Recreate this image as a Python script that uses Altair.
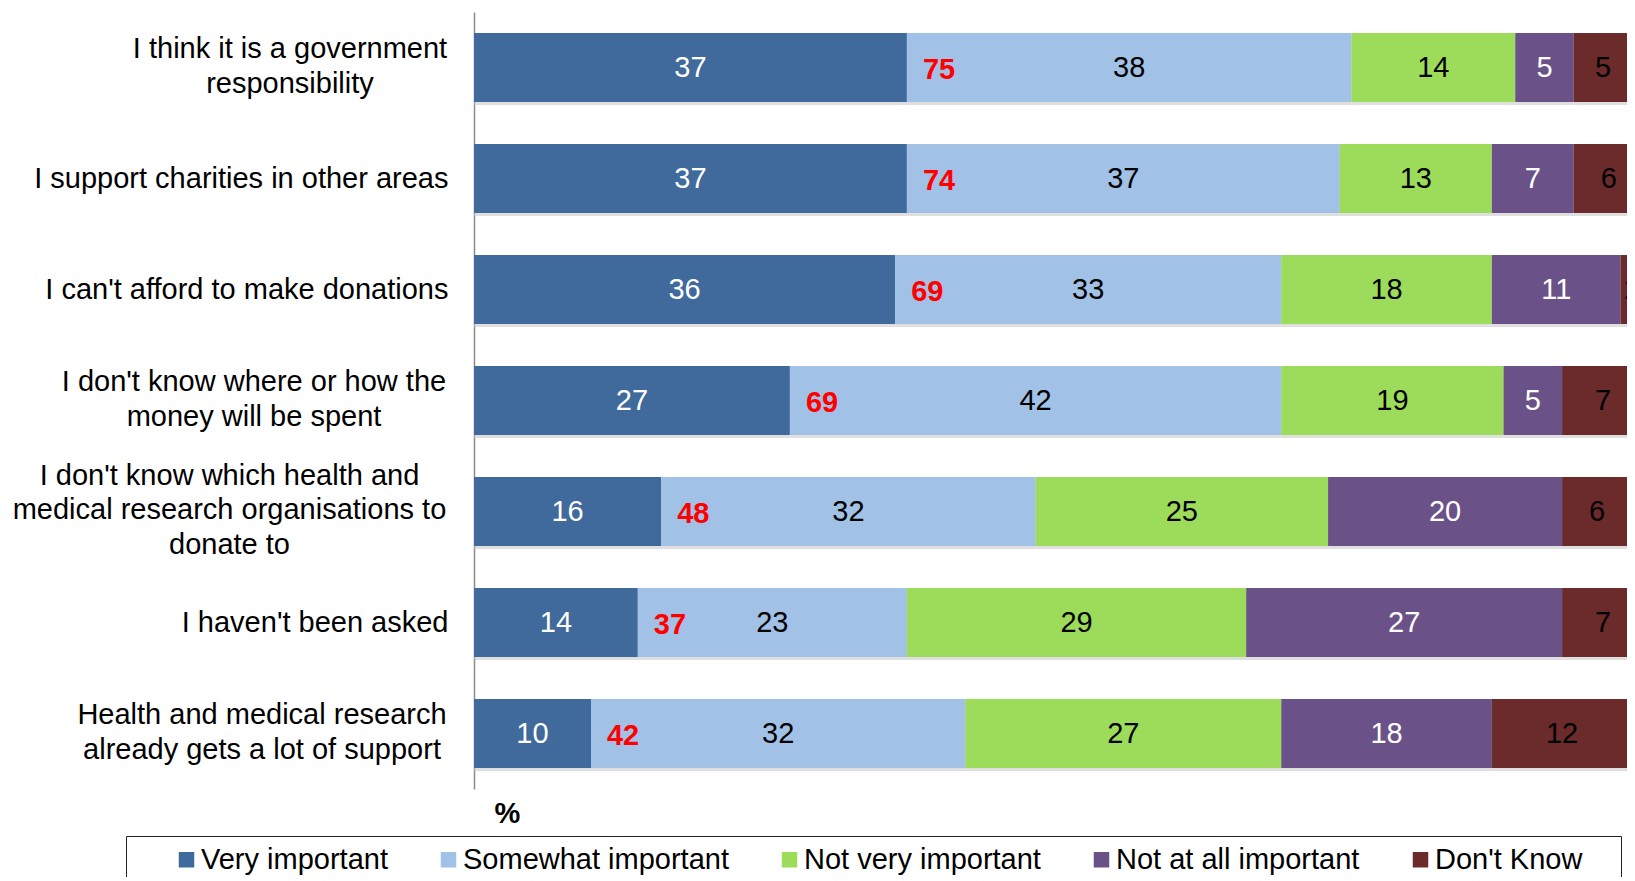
import json
import altair as alt
import pandas as pd

# ---------------- data ----------------
categories = [
    "I think it is a government|responsibility",
    "I support charities in other areas",
    "I can't afford to make donations",
    "I don't know where or how the|money will be spent",
    "I don't know which health and|medical research organisations to|donate to",
    "I haven't been asked",
    "Health and medical research|already gets a lot of support",
]
series = ["Very important", "Somewhat important", "Not very important",
          "Not at all important", "Don't Know"]
very_important = [37, 37, 36, 27, 16, 14, 10]
somewhat_important = [38, 37, 33, 42, 32, 23, 32]
not_very_important = [14, 13, 18, 19, 25, 29, 27]
not_at_all_important = [5, 7, 11, 5, 20, 27, 18]
dont_know = [5, 6, 2, 7, 6, 7, 12]
important_total = [75, 74, 69, 69, 48, 37, 42]

# ---------------- styles ----------------
bar_colors = ["#3F6A9B", "#A1C1E7", "#9DDC5A", "#6A5289", "#6B2B2B"]
text_colors = ["#FFFFFF", "#000000", "#000000", "#FFFFFF", "#000000"]
FONT = "Liberation Sans"
FS = 29
LH = 34.5
# widths (px) of multi-line label blocks, used to centre their lines
label_block_widths = {
    categories[0]: 317,
    categories[3]: 389,
    categories[4]: 438,
    categories[6]: 373,
}

values_by_series = [very_important, somewhat_important, not_very_important,
                    not_at_all_important, dont_know]
rows = []
for si, (s, vals) in enumerate(zip(series, values_by_series)):
    for c, v in zip(categories, vals):
        rows.append({"cat": c, "series": s, "order": si, "value": v})
df = pd.DataFrame(rows)
df_tot = pd.DataFrame({"cat": categories, "vi": very_important, "total": important_total})


def test(c):
    return f"datum.value === {json.dumps(c)}"


align_cond = [{"test": test(c), "value": "center"} for c in label_block_widths]
pad_cond = [{"test": test(c), "value": 26 + w / 2} for c, w in label_block_widths.items()]
offset_cond = [{"test": test(c), "value": -(c.count("|") * LH / 2) - 1.2}
               for c in categories if "|" in c]

xscale = alt.Scale(domain=[0, 98.55], nice=False, zero=True)
yscale = alt.Scale(paddingInner=0.38, paddingOuter=0.19)

yaxis = alt.Axis(
    title=None, labelExpr="split(datum.label, '|')", labelFontSize=FS,
    labelFont=FONT, labelColor="#000000", labelLineHeight=LH, ticks=False,
    domainColor="#8A8A8A", domainWidth=1.5, labelLimit=0, labelBaseline="middle",
    labelAlign={"condition": align_cond, "value": "right"},
    labelPadding={"condition": pad_cond, "value": 26},
    labelOffset={"condition": offset_cond, "value": 0},
    grid=False,
)
y = alt.Y("cat:N", sort=categories, scale=yscale, axis=yaxis)
y_plain = alt.Y("cat:N", sort=categories, scale=yscale)

base = alt.Chart(df).transform_stack(
    stack="value", groupby=["cat"], sort=[alt.SortField("order")], as_=["x0", "x1"]
).transform_calculate(mid="(datum.x0 + datum.x1) / 2")

# blank filler so the legend frame reaches towards the right edge
pad_expr = ("indexof(datum.label, 'Know') >= 0 ? datum.label + "
            "'\u00a0\u2800' : datum.label")

xaxis = alt.Axis(
    title="%", labels=False, ticks=False, domain=False, grid=False,
    titleFontSize=FS, titleFontWeight="bold", titleFont=FONT,
    titleColor="#000000", titleX=33, titleY=24, titleAlign="center",
    titleBaseline="middle")

shadow = base.mark_bar(clip=True, color="#C4C4C4", opacity=0.55).encode(
    y=y,
    x=alt.X("x0:Q", scale=xscale, axis=xaxis),
    x2="x1:Q",
    yOffset=alt.value(3),
)

bars = base.mark_bar(clip=True).encode(
    y=y_plain,
    x=alt.X("x0:Q", scale=xscale),
    x2="x1:Q",
    color=alt.Color("series:N", sort=series,
                    scale=alt.Scale(domain=series, range=bar_colors),
                    legend=alt.Legend(
                        orient="none", legendX=-348, legendY=824,
                        direction="horizontal", title=" ", titleOrient="left",
                        titlePadding=37, titleFontSize=FS, padding=9,
                        labelFont=FONT, labelFontSize=FS, labelColor="#000000",
                        labelExpr=pad_expr,
                        symbolType="square", symbolSize=240, symbolStrokeWidth=0,
                        labelOffset=0, columnPadding=46, strokeColor="#222222",
                        labelLimit=0)),
)

seg_text = base.mark_text(clip=True, font=FONT, fontSize=FS, baseline="middle").encode(
    y=y_plain,
    x=alt.X("mid:Q", scale=xscale),
    text=alt.Text("value:Q"),
    fill=alt.Fill("series:N", scale=alt.Scale(domain=series, range=text_colors), legend=None),
)

tot_text = alt.Chart(df_tot).mark_text(
    font=FONT, fontSize=FS, fontWeight="bold", color="#FF0000",
    align="left", baseline="middle", dx=16, dy=2,
).encode(y=y_plain, x=alt.X("vi:Q", scale=xscale), text=alt.Text("total:Q"))

chart = alt.layer(shadow, bars, seg_text, tot_text).properties(
    width=1153, height=777,
    autosize=alt.AutoSizeParams(type="none"),
    padding={"left": 466, "top": 4, "right": 0, "bottom": 88},
    background="white",
).configure_view(stroke=None)

chart.save("out.html", embed_options={"renderer": "svg", "actions": False})
